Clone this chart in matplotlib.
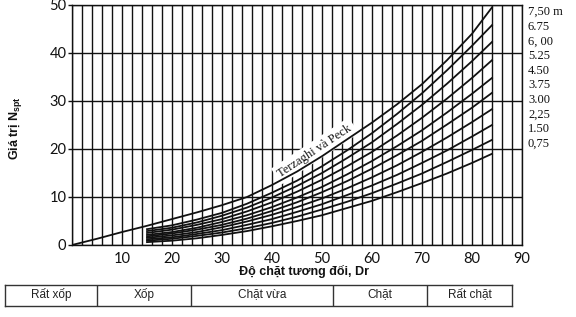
import numpy as np
import matplotlib
matplotlib.use("Agg")
import matplotlib.pyplot as plt

# ---------------- data ----------------
dr_tp = [0, 5, 10, 15, 20, 25, 30, 35, 40, 45, 50, 55, 60, 65, 70, 75, 80, 84]
n_tp = [0, 1.3, 2.7, 4.0, 5.4, 6.8, 8.3, 10.0, 12.5, 15.3, 18.5, 22.0, 25.5, 29.3, 33.5, 38.5, 44.0, 49.5]

dr_curves = [15, 20, 25, 30, 35, 40, 45, 50, 55, 60, 65, 70, 75, 80, 84]
n_075 = [0.6, 0.9, 1.4, 2.1, 2.9, 3.9, 5.0, 6.2, 7.7, 9.2, 11.0, 12.9, 14.9, 17.1, 19.0]
n_150 = [0.9, 1.3, 1.9, 2.6, 3.5, 4.6, 5.9, 7.4, 9.0, 10.8, 12.8, 14.9, 17.3, 19.8, 21.9]
n_225 = [1.2, 1.6, 2.3, 3.1, 4.2, 5.4, 6.9, 8.5, 10.4, 12.4, 14.6, 17.1, 19.7, 22.6, 25.0]
n_300 = [1.5, 2.0, 2.7, 3.7, 4.9, 6.3, 7.9, 9.7, 11.8, 14.1, 16.6, 19.4, 22.4, 25.6, 28.3]
n_375 = [1.8, 2.4, 3.2, 4.2, 5.5, 7.1, 8.9, 11.0, 13.3, 15.9, 18.7, 21.7, 25.1, 28.6, 31.7]
n_450 = [2.1, 2.7, 3.6, 4.8, 6.2, 7.9, 9.9, 12.1, 14.7, 17.5, 20.6, 23.9, 27.6, 31.5, 34.8]
n_525 = [2.5, 3.2, 4.2, 5.4, 7.0, 8.9, 11.1, 13.6, 16.4, 19.4, 22.8, 26.5, 30.5, 34.8, 38.5]
n_600 = [2.9, 3.6, 4.7, 6.1, 7.8, 9.9, 12.3, 15.0, 18.1, 21.4, 25.2, 29.2, 33.6, 38.3, 42.3]
n_675 = [3.3, 4.1, 5.3, 6.7, 8.6, 10.9, 13.4, 16.4, 19.7, 23.3, 27.3, 31.6, 36.4, 41.5, 45.8]

depth_labels = ["7,50 m", "6.75", "6, 00", "5.25", "4.50", "3.75", "3.00", "2,25", "1.50", "0,75"]
x_ticks = [10, 20, 30, 40, 50, 60, 70, 80, 90]
y_ticks = [0, 10, 20, 30, 40, 50]

classes = ["Rất xốp", "Xốp", "Chặt vừa", "Chặt", "Rất chặt"]

# ---------------- figure ----------------
ink = "#111111"
fig = plt.figure(figsize=(5.76, 3.17), dpi=100)
ax = fig.add_axes([72 / 576, 72 / 317, 450 / 576, 240 / 317])
ax.set_xlim(0, 90)
ax.set_ylim(0, 50)

ax.set_xticks(x_ticks)
ax.set_xticks(np.arange(0, 91, 2), minor=True)
ax.set_yticks(y_ticks)
ax.set_axisbelow(True)
ax.grid(which="minor", axis="x", color=ink, lw=1.0)
ax.grid(which="major", axis="x", color=ink, lw=1.0)
ax.grid(which="major", axis="y", color=ink, lw=1.0)
for s in ax.spines.values():
    s.set_color(ink)
    s.set_linewidth(1.0)

ax.tick_params(axis="x", which="both", length=0, pad=5, labelsize=10.5, colors=ink)
ax.tick_params(axis="x", which="minor", length=0)
ax.tick_params(axis="y", length=3, width=1, pad=1, labelsize=10.5, colors=ink)
for lab in ax.get_xticklabels() + ax.get_yticklabels():
    lab.set_family("Lato")

# curves
ax.plot(dr_tp, n_tp, color=ink, lw=1.3, zorder=4, solid_joinstyle="round")
for n in [n_675, n_600, n_525, n_450, n_375, n_300, n_225, n_150, n_075]:
    ax.plot(dr_curves, n, color=ink, lw=1.3, zorder=4, solid_joinstyle="round")

# depth labels on the right
for i, lab in enumerate(depth_labels):
    ax.text(91.2, 48.5 - 3.05 * i, lab, ha="left", va="center",
            fontsize=9, family="Liberation Serif", color=ink, clip_on=False)

# Terzaghi label
ax.text(48.6, 19.6, "Terzaghi và Peck", rotation=33.5, rotation_mode="anchor",
        ha="center", va="center", fontsize=9, family="Liberation Serif", color=ink,
        zorder=3, bbox=dict(facecolor="white", edgecolor="none", pad=2.5))

# axis labels
fig.text(15 / 576, 1 - 128 / 317, "Giá trị N$_{\\mathregular{spt}}$", rotation=90,
         ha="center", va="center", fontsize=9, fontweight="bold",
         family="Liberation Sans", color=ink)
fig.text(304 / 576, 1 - 271 / 317, "Độ chặt tương đối, Dr", ha="center", va="center",
         fontsize=9, fontweight="bold", family="Liberation Sans", color=ink)

# classification table
tax = fig.add_axes([5 / 576, 11 / 317, 507 / 576, 21 / 317])
tax.set_xlim(0, 507)
tax.set_ylim(0, 1)
tax.set_xticks([])
tax.set_yticks([])
for s in tax.spines.values():
    s.set_color("#333333")
    s.set_linewidth(1.0)
bounds = [0, 92, 186, 328, 422, 507]
for b in bounds[1:-1]:
    tax.axvline(b, color="#333333", lw=1.0)
for i, c in enumerate(classes):
    tax.text((bounds[i] + bounds[i + 1]) / 2, 0.55, c, ha="center", va="center",
             fontsize=8.5, family="Liberation Sans", color="#222222")

fig.savefig("out.png", dpi=100)
